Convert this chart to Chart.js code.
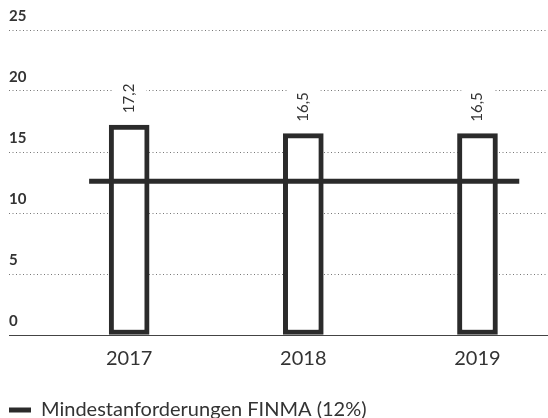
<!DOCTYPE html>
<html>
<head>
<meta charset="utf-8">
<script src="https://cdn.jsdelivr.net/npm/chart.js@4/dist/chart.umd.min.js"></script>
<style>
  html, body { margin: 0; padding: 0; background: #ffffff; }
  #wrap { width: 548px; height: 418px; }
</style>
</head>
<body>
<div id="wrap"><canvas id="c" width="548" height="418"></canvas></div>
<script>
// ---- data ----
const years = ['2017', '2018', '2019'];
const ratioValues = [17.2, 16.5, 16.5];
const ratioLabels = ['17,2', '16,5', '16,5'];
const finmaLabel = 'Mindestanforderungen FINMA (12%)';
const finmaValue = 12.6;
const yTicks = [0, 5, 10, 15, 20, 25];
// how far the FINMA line reaches beyond the first / last year (in category units)
const finmaReach = [-0.23, 0.24];

const DARK = '#2b2b2b';
const TEXT = '#333333';
const FONT = 'Lato, "DejaVu Sans", sans-serif';

const barData = years.map((y, i) => ({ x: i, y: ratioValues[i] }));
const lineData = [
  { x: 0 + finmaReach[0], y: finmaValue },
  { x: years.length - 1 + finmaReach[1], y: finmaValue }
];

const valueLabelPlugin = {
  id: 'valueLabels',
  beforeDatasetsDraw(chart) {
    const ctx = chart.ctx;
    const meta = chart.getDatasetMeta(0);
    ctx.save();
    ctx.font = '15px ' + FONT;
    meta.data.forEach((bar, i) => {
      const txt = ratioLabels[i];
      const w = ctx.measureText(txt).width;
      const bottom = bar.y - 12;
      ctx.fillStyle = '#ffffff';
      ctx.fillRect(bar.x - 16, bottom - w - 4, 33, w + 8);
    });
    ctx.restore();
  },
  afterDatasetsDraw(chart) {
    const ctx = chart.ctx;
    const meta = chart.getDatasetMeta(0);
    ctx.save();
    ctx.font = '15px ' + FONT;
    ctx.fillStyle = TEXT;
    meta.data.forEach((bar, i) => {
      const txt = ratioLabels[i];
      ctx.save();
      ctx.translate(bar.x, bar.y - 12);
      ctx.rotate(-Math.PI / 2);
      ctx.textAlign = 'left';
      ctx.textBaseline = 'middle';
      ctx.fillText(txt, 0, 0);
      ctx.restore();
    });
    ctx.restore();
  }
};

new Chart(document.getElementById('c'), {
  data: {
    datasets: [
      {
        type: 'bar',
        label: 'Gesamtkapitalquote',
        data: barData,
        backgroundColor: '#ffffff',
        borderColor: DARK,
        borderWidth: 5,
        borderSkipped: false,
        barThickness: 40,
        order: 2
      },
      {
        type: 'line',
        label: finmaLabel,
        data: lineData,
        borderColor: DARK,
        backgroundColor: DARK,
        borderWidth: 5,
        borderCapStyle: 'butt',
        pointRadius: 0,
        fill: false,
        order: 1
      }
    ]
  },
  options: {
    responsive: false,
    animation: false,
    layout: { padding: { left: 9, right: 0, top: 30, bottom: -12 } },
    scales: {
      x: {
        type: 'linear',
        offset: false,
        min: -0.69,
        max: 2.405,
        afterBuildTicks(scale) {
          scale.ticks = years.map((y, i) => ({ value: i }));
        },
        afterFit(scale) { scale.height = 65; },
        ticks: {
          autoSkip: false,
          includeBounds: false,
          padding: 12,
          color: TEXT,
          font: { family: FONT, size: 20 },
          callback: (v) => years[v] ?? ''
        },
        grid: { display: false, drawTicks: false },
        border: { display: true, color: '#444', width: 1 }
      },
      y: {
        min: 0,
        max: 25,
        afterBuildTicks(scale) {
          scale.ticks = yTicks.map(v => ({ value: v }));
        },
        ticks: {
          mirror: true,
          padding: 0,
          labelOffset: -13.5,
          color: TEXT,
          font: { family: FONT, size: 15, weight: 'bold' },
          callback: (v) => String(v)
        },
        grid: {
          color: (c) => c.tick && c.tick.value === 0 ? 'rgba(0,0,0,0)' : '#777777',
          lineWidth: 1,
          drawTicks: false
        },
        border: { display: false, dash: [1, 2.5] }
      }
    },
    plugins: {
      tooltip: { enabled: false },
      legend: {
        position: 'bottom',
        align: 'start',
        labels: {
          color: TEXT,
          font: { family: FONT, size: 20 },
          boxWidth: 22,
          boxHeight: 5,
          padding: 0,
          generateLabels(chart) {
            return Chart.defaults.plugins.legend.labels.generateLabels(chart)
              .filter(l => l.datasetIndex === 1)
              .map(l => Object.assign(l, { lineWidth: 0, fillStyle: DARK, strokeStyle: DARK }));
          }
        }
      }
    }
  },
  plugins: [valueLabelPlugin]
});
</script>
</body>
</html>
